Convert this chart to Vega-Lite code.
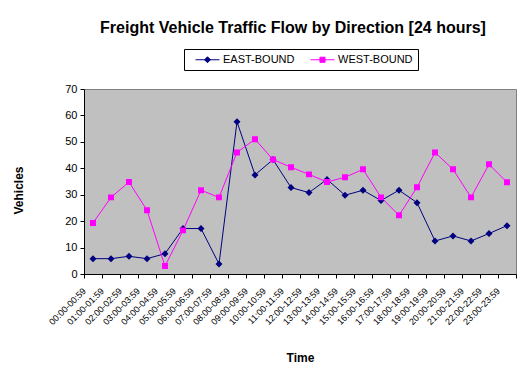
{
  "$schema": "https://vega.github.io/schema/vega-lite/v6.json",
  "width": 432,
  "height": 185,
  "autosize": {"type": "none"},
  "padding": {"left": 84, "top": 89, "right": 14, "bottom": 101},
  "background": "white",
  "title": {
    "text": "Freight Vehicle Traffic Flow by Direction [24 hours]",
    "font": "Liberation Sans",
    "fontSize": 16,
    "fontWeight": "bold",
    "color": "black",
    "anchor": "middle",
    "frame": "group",
    "dx": -7,
    "offset": 13
  },
  "config": {
    "view": {"fill": "#C0C0C0", "stroke": "#808080", "strokeWidth": 1},
    "axis": {
      "labelFont": "Liberation Sans",
      "titleFont": "Liberation Sans",
      "labelColor": "black",
      "titleColor": "black",
      "domainColor": "black",
      "tickColor": "black",
      "grid": false,
      "tickSize": 4,
      "titleFontWeight": "bold",
      "titleFontSize": 12
    },
    "legend": {
      "labelFont": "Liberation Sans"
    }
  },
  "data": {
    "values": [
      {"hour": "00:00-00:59", "dir": "EAST-BOUND", "v": 5.8},
      {"hour": "01:00-01:59", "dir": "EAST-BOUND", "v": 5.8},
      {"hour": "02:00-02:59", "dir": "EAST-BOUND", "v": 6.7},
      {"hour": "03:00-03:59", "dir": "EAST-BOUND", "v": 5.8},
      {"hour": "04:00-04:59", "dir": "EAST-BOUND", "v": 7.7},
      {"hour": "05:00-05:59", "dir": "EAST-BOUND", "v": 17.2},
      {"hour": "06:00-06:59", "dir": "EAST-BOUND", "v": 17.2},
      {"hour": "07:00-07:59", "dir": "EAST-BOUND", "v": 3.8},
      {"hour": "08:00-08:59", "dir": "EAST-BOUND", "v": 57.6},
      {"hour": "09:00-09:59", "dir": "EAST-BOUND", "v": 37.5},
      {"hour": "10:00-10:59", "dir": "EAST-BOUND", "v": 43.3},
      {"hour": "11:00-11:59", "dir": "EAST-BOUND", "v": 32.7},
      {"hour": "12:00-12:59", "dir": "EAST-BOUND", "v": 30.8},
      {"hour": "13:00-13:59", "dir": "EAST-BOUND", "v": 35.8},
      {"hour": "14:00-14:59", "dir": "EAST-BOUND", "v": 29.8},
      {"hour": "15:00-15:59", "dir": "EAST-BOUND", "v": 31.7},
      {"hour": "16:00-16:59", "dir": "EAST-BOUND", "v": 27.8},
      {"hour": "17:00-17:59", "dir": "EAST-BOUND", "v": 31.7},
      {"hour": "18:00-18:59", "dir": "EAST-BOUND", "v": 27.0},
      {"hour": "19:00-19:59", "dir": "EAST-BOUND", "v": 12.5},
      {"hour": "20:00-20:59", "dir": "EAST-BOUND", "v": 14.4},
      {"hour": "21:00-21:59", "dir": "EAST-BOUND", "v": 12.5},
      {"hour": "22:00-22:59", "dir": "EAST-BOUND", "v": 15.3},
      {"hour": "23:00-23:59", "dir": "EAST-BOUND", "v": 18.3},
      {"hour": "00:00-00:59", "dir": "WEST-BOUND", "v": 19.3},
      {"hour": "01:00-01:59", "dir": "WEST-BOUND", "v": 29.0},
      {"hour": "02:00-02:59", "dir": "WEST-BOUND", "v": 34.8},
      {"hour": "03:00-03:59", "dir": "WEST-BOUND", "v": 24.1},
      {"hour": "04:00-04:59", "dir": "WEST-BOUND", "v": 3.0},
      {"hour": "05:00-05:59", "dir": "WEST-BOUND", "v": 16.5},
      {"hour": "06:00-06:59", "dir": "WEST-BOUND", "v": 31.7},
      {"hour": "07:00-07:59", "dir": "WEST-BOUND", "v": 29.0},
      {"hour": "08:00-08:59", "dir": "WEST-BOUND", "v": 46.0},
      {"hour": "09:00-09:59", "dir": "WEST-BOUND", "v": 51.0},
      {"hour": "10:00-10:59", "dir": "WEST-BOUND", "v": 43.3},
      {"hour": "11:00-11:59", "dir": "WEST-BOUND", "v": 40.4},
      {"hour": "12:00-12:59", "dir": "WEST-BOUND", "v": 37.7},
      {"hour": "13:00-13:59", "dir": "WEST-BOUND", "v": 34.8},
      {"hour": "14:00-14:59", "dir": "WEST-BOUND", "v": 36.6},
      {"hour": "15:00-15:59", "dir": "WEST-BOUND", "v": 39.6},
      {"hour": "16:00-16:59", "dir": "WEST-BOUND", "v": 29.0},
      {"hour": "17:00-17:59", "dir": "WEST-BOUND", "v": 22.2},
      {"hour": "18:00-18:59", "dir": "WEST-BOUND", "v": 32.8},
      {"hour": "19:00-19:59", "dir": "WEST-BOUND", "v": 46.0},
      {"hour": "20:00-20:59", "dir": "WEST-BOUND", "v": 39.6},
      {"hour": "21:00-21:59", "dir": "WEST-BOUND", "v": 29.0},
      {"hour": "22:00-22:59", "dir": "WEST-BOUND", "v": 41.5},
      {"hour": "23:00-23:59", "dir": "WEST-BOUND", "v": 34.7}
    ]
  },
  "encoding": {
    "x": {
      "field": "hour",
      "type": "ordinal",
      "sort": null,
      "scale": {"type": "band", "paddingInner": 0, "paddingOuter": 0},
      "axis": {
        "title": "Time",
        "labelAngle": -45,
        "labelAlign": "right",
        "labelBaseline": "middle",
        "labelFontSize": 9,
        "labelPadding": 11,
        "labelOffset": -9,
        "tickBand": "extent",
        "titleX": 216,
        "titleY": 83,
        "titleBaseline": "middle"
      }
    },
    "y": {
      "field": "v",
      "type": "quantitative",
      "scale": {"domain": [0, 70], "nice": false},
      "axis": {
        "title": "Vehicles",
        "values": [0, 10, 20, 30, 40, 50, 60, 70],
        "labelFontSize": 11,
        "labelPadding": 3,
        "titleX": -66,
        "titleY": 101,
        "titleBaseline": "middle",
        "titleAngle": -90
      }
    },
    "color": {
      "field": "dir",
      "type": "nominal",
      "scale": {"domain": ["EAST-BOUND", "WEST-BOUND"], "range": ["#000080", "#FF00FF"]},
      "legend": {
        "title": null,
        "orient": "none",
        "direction": "horizontal",
        "legendX": 100,
        "legendY": -40,
        "strokeColor": "black",
        "fillColor": "white",
        "padding": 5,
        "labelFontSize": 11,
        "labelColor": "black",
        "symbolSize": 36,
        "symbolStrokeWidth": 1,
        "symbolOffset": 13,
        "columnPadding": 9,
        "labelOffset": 10
      }
    }
  },
  "layer": [
    {"mark": {"type": "line", "strokeWidth": 1}},
    {
      "mark": {"type": "point", "filled": true, "opacity": 1, "size": 49},
      "encoding": {
        "shape": {
          "field": "dir",
          "type": "nominal",
          "scale": {
            "domain": ["EAST-BOUND", "WEST-BOUND"],
            "range": ["M-4,0H4M-1,0L0,-1L1,0L0,1Z", "M-4,0H4M-0.85,-0.85H0.85V0.85H-0.85Z"]
          },
          "legend": null
        }
      }
    }
  ]
}
